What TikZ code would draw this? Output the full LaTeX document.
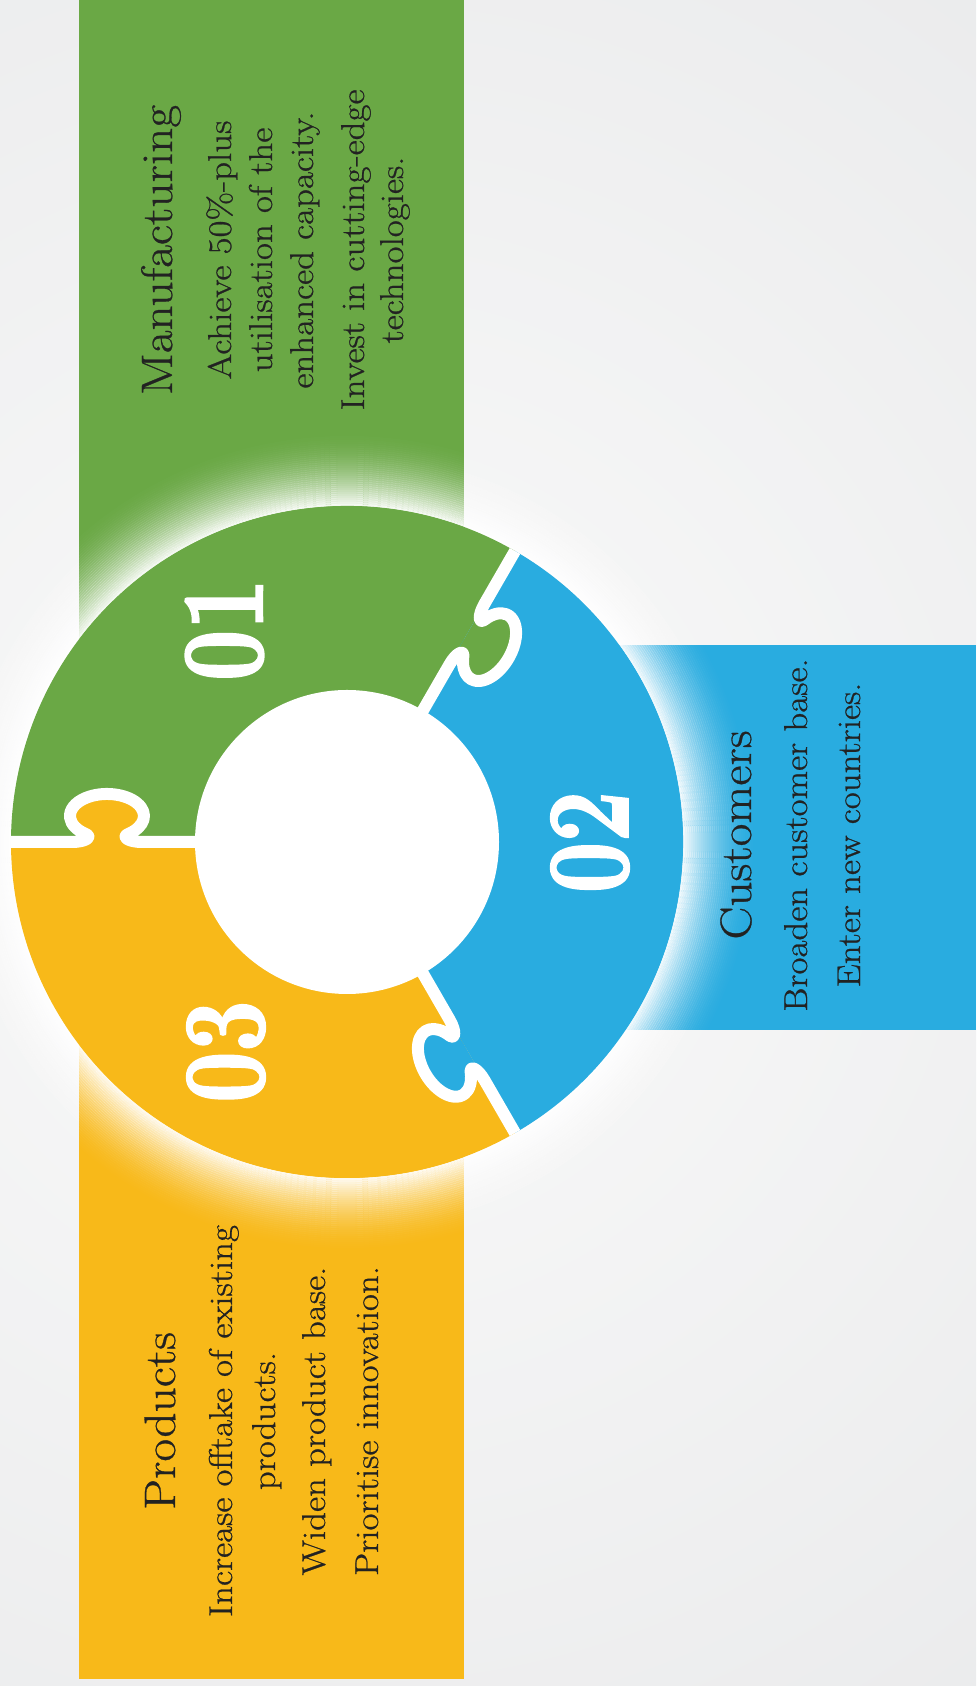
\documentclass[tikz,border=0pt]{standalone}
\usepackage{fontspec}
\usepackage{graphicx}
\newfontfamily\txtfont{Latin Modern Roman}[FakeStretch=1.12, FakeBold=0.7]
\newfontfamily\numfont{Latin Modern Roman}[FakeBold=2.5]
\definecolor{grn}{HTML}{6AA845}
\definecolor{blu}{HTML}{29ACE0}
\definecolor{ylw}{HTML}{F8B919}
\definecolor{bgd}{HTML}{DFE0E2}
\definecolor{bgl}{HTML}{FAFAFA}
\definecolor{txt}{HTML}{222222}
\newcommand\kpath{(205,0) .. controls (219,0) and (225.5,5.2) .. (218.8,8.0) arc[start angle=235, end angle=-55, x radius=37, y radius=22] .. controls (254.5,5.2) and (261,0) .. (275,0)}
\tikzset{
  ttl/.style={rotate=90, anchor=base, inner sep=0pt, text=txt, font=\txtfont\fontsize{22}{26}\selectfont},
  bod/.style={rotate=90, anchor=base, inner sep=0pt, text=txt, font=\txtfont\fontsize{16.5}{20}\selectfont},
  num/.style={rotate=90, anchor=center, inner sep=0pt, text=white, font=\numfont\fontsize{58}{60}\selectfont\bfseries},
  gapline/.style={white, line width=6pt, line join=round},
}
\begin{document}
\begin{tikzpicture}[x=0.5pt, y=0.5pt]
\useasboundingbox (0,0) rectangle (976,1686);
\clip (0,0) rectangle (976,1686);
\coordinate (C) at (347,844);
% background
\fill[bgd] (0,0) rectangle (976,1686);
\shade[inner color=bgl, outer color=bgd] (C) circle[radius=1900];
% bands
\fill[grn] (79,844) rectangle (464,1686);
\fill[ylw] (79,7) rectangle (464,844);
\fill[blu] (420,656) rectangle (976,1041);
% glow
\foreach \i [evaluate=\i as \op using {0.92*(1-\i/38)^2}, evaluate=\i as \rr using {337+2*\i}] in {0,...,37}
  \draw[white, line width=1.1pt, opacity=\op] (C) circle[radius=\rr];
% ring pieces
\fill[grn] (C) -- ++(60:336) arc[start angle=60, end angle=180, radius=336] -- cycle;
\fill[ylw] (C) -- ++(180:336) arc[start angle=180, end angle=300, radius=336] -- cycle;
\fill[blu] (C) -- ++(-60:336) arc[start angle=-60, end angle=60, radius=336] -- cycle;
% knobs
\begin{scope}[shift={(C)}, rotate=180, yscale=-1]
  \fill[ylw] \kpath -- cycle;
\end{scope}
\begin{scope}[shift={(C)}, rotate=60, yscale=-1]
  \fill[grn] \kpath -- cycle;
\end{scope}
\begin{scope}[shift={(C)}, rotate=-60, yscale=-1]
  \fill[blu] \kpath -- cycle;
\end{scope}
% gaps
\begin{scope}[shift={(C)}, rotate=180, yscale=-1]
  \draw[gapline] (0,0) -- \kpath -- (336,0);
\end{scope}
\begin{scope}[shift={(C)}, rotate=60, yscale=-1]
  \draw[gapline] (0,0) -- \kpath -- (336,0);
\end{scope}
\begin{scope}[shift={(C)}, rotate=-60, yscale=-1]
  \draw[gapline] (0,0) -- \kpath -- (336,0);
\end{scope}
\fill[white] (C) circle[radius=152];
% numbers
\node[num] (n1) at ([shift={(120:245)}]C) {\scalebox{0.78}[1]{01}};
\node[num] (n2) at ([shift={(0:243)}]C) {\scalebox{0.78}[1]{02}};
\node[num] (n3) at ([shift={(-120:242)}]C) {\scalebox{0.78}[1]{03}};
% manufacturing
\node[ttl] (m0) at (172,1436) {Manufacturing};
\node[bod] (m1) at (231,1436) {Achieve 50\%-plus};
\node[bod] (m2) at (272,1436) {utilisation of the};
\node[bod] (m3) at (313,1436) {enhanced capacity.};
\node[bod] (m4) at (364,1436) {Invest in cutting-edge};
\node[bod] (m5) at (403,1436) {technologies.};
% customers
\node[ttl] (c0) at (751,851) {Customers};
\node[bod] (c1) at (807,851) {Broaden customer base.};
\node[bod] (c2) at (860,851) {Enter new countries.};
% products
\node[ttl] (p0) at (175,265) {Products};
\node[bod] (p1) at (232,265) {Increase offtake of existing};
\node[bod] (p2) at (275,265) {products.};
\node[bod] (p3) at (325,265) {Widen product base.};
\node[bod] (p4) at (378,265) {Prioritise innovation.};
\end{tikzpicture}
\end{document}
